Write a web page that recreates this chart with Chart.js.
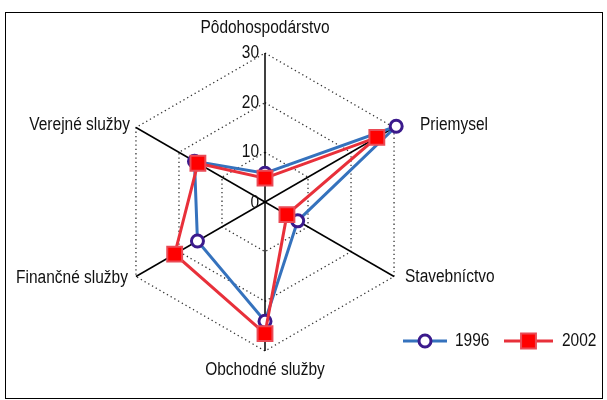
<!DOCTYPE html>
<html>
<head>
<meta charset="utf-8">
<script src="https://cdn.jsdelivr.net/npm/chart.js@4.4.1/dist/chart.umd.min.js"></script>
<style>
  html, body { margin: 0; padding: 0; background: #fff; }
  #wrap { width: 607px; height: 400px; position: relative; }
</style>
</head>
<body>
<div id="wrap"><canvas id="thisChart" width="607" height="400"></canvas></div>
<script>
const categories = ["Pôdohospodárstvo", "Priemysel", "Stavebníctvo", "Obchodné služby", "Finančné služby", "Verejné služby"]
const values1996 = [5.8, 30.5, 7.6, 24, 15.7, 16.4]
const values2002 = [4.8, 26, 5.1, 26.5, 21, 15.6]
const tickValues = [0, 10, 20, 30]
const seriesNames = ["1996", "2002"]

const FONT = '18px "Liberation Sans", Arial, sans-serif'
const SQUEEZE = 0.86

// narrow text: draw with a horizontal squeeze
function narrowText(ctx, txt, x, y, align) {
  ctx.save()
  ctx.translate(x, y)
  ctx.scale(SQUEEZE, 1)
  ctx.textAlign = align
  ctx.fillText(txt, 0, 0)
  ctx.restore()
}

// offsets of the category labels from the spoke ends
const labelOffsets = [[0, -25, 'center'], [26, -2, 'left'], [11, 1, 'left'], [0, 19, 'center'], [-8, 2, 'right'], [-6, -2, 'right']]

const decor = {
  id: 'decor',
  beforeDraw(chart) {
    const ctx = chart.ctx
    ctx.save()
    ctx.fillStyle = '#fff'
    ctx.fillRect(0, 0, chart.width, chart.height)
    ctx.strokeStyle = '#000'
    ctx.lineWidth = 1
    ctx.strokeRect(5.5, 12.5, 597, 386)
    ctx.restore()
  },
  afterDatasetsDraw(chart) {
    const ctx = chart.ctx
    const scale = chart.scales.r
    ctx.save()
    ctx.fillStyle = '#111'
    ctx.font = FONT
    ctx.textBaseline = 'middle'

    categories.forEach((lab, i) => {
      const p = scale.getPointPosition(i, scale.drawingArea)
      const o = labelOffsets[i]
      narrowText(ctx, lab, p.x + o[0], p.y + o[1], o[2])
    })

    tickValues.forEach(v => {
      const d = scale.getDistanceFromCenterForValue(v)
      narrowText(ctx, String(v), scale.xCenter - 6, scale.yCenter - d + (v === 0 ? 1 : 0), 'right')
    })

    // legend
    const ly = 341
    const items = [
      {x0: 403, x1: 447, tx: 455},
      {x0: 504, x1: 553, tx: 562}
    ]
    chart.data.datasets.forEach((ds, i) => {
      const it = items[i]
      ctx.strokeStyle = ds.borderColor
      ctx.lineWidth = ds.borderWidth
      ctx.beginPath()
      ctx.moveTo(it.x0, ly)
      ctx.lineTo(it.x1, ly)
      ctx.stroke()
      ctx.fillStyle = ds.pointBackgroundColor
      ctx.strokeStyle = ds.pointBorderColor
      ctx.lineWidth = ds.pointBorderWidth
      Chart.helpers.drawPoint(ctx, {pointStyle: ds.pointStyle, radius: ds.pointRadius, borderWidth: ds.pointBorderWidth}, (it.x0 + it.x1) / 2, ly)
      ctx.fillStyle = '#111'
      narrowText(ctx, ds.label, it.tx, ly, 'left')
    })
    ctx.restore()
  }
}

const data = {
  labels: categories,
  datasets: [{
    label: seriesNames[0],
    data: values1996,
    order: 1,
    borderColor: "#3572bd",
    borderWidth: 3,
    fill: false,
    pointStyle: 'circle',
    pointRadius: 6,
    pointBorderWidth: 3,
    pointBackgroundColor: "#ffffff",
    pointBorderColor: "#3b1a8c",
  }, {
    label: seriesNames[1],
    data: values2002,
    order: 0,
    borderColor: "#e8303a",
    borderWidth: 3,
    fill: false,
    pointStyle: 'rect',
    pointRadius: 10.5,
    pointBorderWidth: 2,
    pointBackgroundColor: "#ff0000",
    pointBorderColor: "#ea4a55",
  }]
}

const config = {
  type: "radar",
  data,
  plugins: [decor],
  options: {
    responsive: false,
    animation: false,
    clip: false,
    layout: { padding: { left: 116, right: 193, top: 53, bottom: 49 } },
    plugins: { legend: { display: false }, tooltip: { enabled: false } },
    elements: { line: { tension: 0 } },
    scales: {
      r: {
        min: 0,
        max: 30,
        ticks: { stepSize: 10, display: false },
        pointLabels: { display: false },
        grid: { color: '#333', lineWidth: 1.3 },
        border: { dash: [1.3, 3] },
        angleLines: { color: '#000', lineWidth: 1.5 },
      },
    },
  },
}
const radarChart = new Chart(document.getElementById("thisChart").getContext('2d'), config)
</script>
</body>
</html>
